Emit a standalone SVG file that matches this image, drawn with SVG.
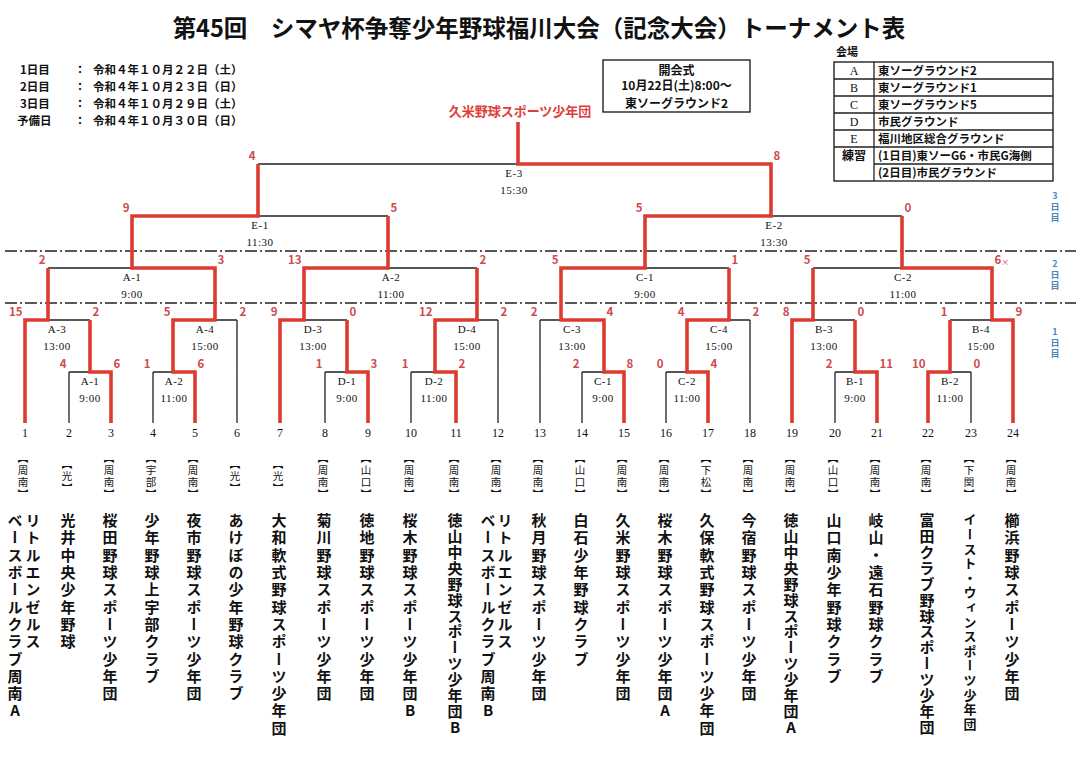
<svg xmlns="http://www.w3.org/2000/svg" width="1089" height="763" viewBox="0 0 1089 763">
<style>
.g{font-family:"Noto Sans CJK JP","Noto Sans",sans-serif;font-weight:bold;fill:#111}
.s{font-family:"Liberation Serif","Noto Sans CJK JP",serif;fill:#111}
.ml{font-size:11px;text-anchor:middle;letter-spacing:0.5px}
.num{font-size:12px;text-anchor:middle}
.sc{font-size:11.5px;fill:#cf4a4f}
.l{text-anchor:end}
.rr{text-anchor:start}
.tn{font-size:15px;writing-mode:vertical-rl;text-orientation:upright;letter-spacing:2.3px}
.tt{letter-spacing:0.9px}
.tsm{font-size:13px;letter-spacing:1.6px}
.pf{font-size:10.5px;writing-mode:vertical-rl;text-orientation:upright;letter-spacing:1.6px;text-anchor:middle;font-weight:normal}
.bk{fill:none;stroke:#222;stroke-width:1.3}
.rd{fill:none;stroke:#dc3b30;stroke-width:3.6;stroke-linejoin:miter}
.dd{fill:none;stroke:#222;stroke-width:1.3;stroke-dasharray:12 3 2 3}
.side{font-size:9px;fill:#4a86c0;text-anchor:middle}
.lg{font-size:11.5px}
.box{fill:none;stroke:#111;stroke-width:1.3}
</style>
<rect width="1089" height="763" fill="#fff"/>

<g id="title">
<text class="g" x="539" y="37" font-size="23.5" text-anchor="middle">第45回　シマヤ杯争奪少年野球福川大会（記念大会）トーナメント表</text>
</g>

<g id="schedule" class="g" font-size="11.5">
<text x="20" y="74">1日目</text><text x="80" y="74" text-anchor="middle">：</text><text x="93" y="74">令和４年１０月２２日（土）</text>
<text x="20" y="91">2日目</text><text x="80" y="91" text-anchor="middle">：</text><text x="93" y="91">令和４年１０月２３日（日）</text>
<text x="20" y="108">3日目</text><text x="80" y="108" text-anchor="middle">：</text><text x="93" y="108">令和４年１０月２９日（土）</text>
<text x="17" y="125">予備日</text><text x="80" y="125" text-anchor="middle">：</text><text x="93" y="125">令和４年１０月３０日（日）</text>
</g>

<g id="opening">
<rect class="box" x="603" y="60" width="147" height="52"/>
<text class="g" x="676.5" y="74.5" font-size="12" text-anchor="middle">開会式</text>
<text class="g" x="676.5" y="89.5" font-size="12" text-anchor="middle">10月22日(土)8:00～</text>
<text class="g" x="676.5" y="107.5" font-size="12" text-anchor="middle">東ソーグラウンド2</text>
</g>

<g id="champion">
<text class="g" x="520" y="116" font-size="13" text-anchor="middle" style="fill:#e03c3c">久米野球スポーツ少年団</text>
</g>

<g id="venues">
<text class="g" x="836" y="56" font-size="11">会場</text>
<rect class="box" x="834" y="62" width="219" height="119"/>
<path class="bk" d="M874 62V181M834 79H1053M834 96H1053M834 113H1053M834 130H1053M834 147H1053M874 164H1053"/>
<text class="s" x="854" y="75" font-size="12" text-anchor="middle">A</text>
<text class="s" x="854" y="92" font-size="12" text-anchor="middle">B</text>
<text class="s" x="854" y="109" font-size="12" text-anchor="middle">C</text>
<text class="s" x="854" y="126" font-size="12" text-anchor="middle">D</text>
<text class="s" x="854" y="143" font-size="12" text-anchor="middle">E</text>
<text class="g" x="854" y="160" font-size="12" text-anchor="middle">練習</text>
<text class="g lg" x="878" y="75">東ソーグラウンド2</text>
<text class="g lg" x="878" y="92">東ソーグラウンド1</text>
<text class="g lg" x="878" y="109">東ソーグラウンド5</text>
<text class="g lg" x="878" y="126">市民グラウンド</text>
<text class="g lg" x="878" y="143">福川地区総合グラウンド</text>
<text class="g lg" x="878" y="160">(1日目)東ソーG6・市民G海側</text>
<text class="g lg" x="878" y="177">(2日目)市民グラウンド</text>
</g>

<g id="day-markers">
<path class="dd" d="M5 251H1076M5 303H1076"/>
<text class="g side" x="1055" y="199"><tspan x="1055">3</tspan><tspan x="1055" dy="11">日</tspan><tspan x="1055" dy="11">目</tspan></text>
<text class="g side" x="1055" y="267"><tspan x="1055">2</tspan><tspan x="1055" dy="11">日</tspan><tspan x="1055" dy="11">目</tspan></text>
<text class="g side" x="1055" y="335"><tspan x="1055">1</tspan><tspan x="1055" dy="11">日</tspan><tspan x="1055" dy="11">目</tspan></text>
</g>

<g id="connectors">
<path class="bk" d="M69 372H90M153 372H173M325 372H347M411 372H435M582 372H604M666 372H687M835 372H855M950 372H971
M48 320H90M215 320H237M304 320H347M477 320H498M540 320H561M729 320H750M813 320H855M950 320H992
M48 268H132M388 268H477M645 268H729M813 268H902
M258 216H388M771 216H902M258 164H518
M69 423V372M153 423V372M237 423V320M325 423V372M411 423V372M498 423V320M540 423V320M582 423V372M666 423V372M750 423V320M835 423V372M971 423V372"/>
<path class="rd" d="M624 423V372H604V320H561V268H645V216H771V164H518V122"/>
<path class="rd" d="M25 423V320H48V268"/>
<path class="rd" d="M111 423V372H90V320"/>
<path class="rd" d="M195 423V372H173V320H215V268H132V216H258V164"/>
<path class="rd" d="M280 423V320H304V268H388V216"/>
<path class="rd" d="M368 423V372H347V320"/>
<path class="rd" d="M456 423V372H435V320H477V268"/>
<path class="rd" d="M708 423V372H687V320H729V268"/>
<path class="rd" d="M792 423V320H813V268"/>
<path class="rd" d="M877 423V372H855V320"/>
<path class="rd" d="M928 423V372H950V320"/>
<path class="rd" d="M1013 423V320H992V268H902V216"/>
</g>

<g id="m-E-3"><text class="s ml" x="514" y="177">E-3</text><text class="s ml" x="514" y="194">15:30</text><text class="g sc l" x="255.5" y="160">4</text><text class="g sc rr" x="773.5" y="160">8</text></g>
<g id="m-E-1"><text class="s ml" x="260" y="229">E-1</text><text class="s ml" x="260" y="246">11:30</text><text class="g sc l" x="129.5" y="212">9</text><text class="g sc rr" x="390.5" y="212">5</text></g>
<g id="m-E-2"><text class="s ml" x="774" y="229">E-2</text><text class="s ml" x="774" y="246">13:30</text><text class="g sc l" x="642.5" y="212">5</text><text class="g sc rr" x="904.5" y="212">0</text></g>

<g id="m-d2-A-1"><text class="s ml" x="132" y="281">A-1</text><text class="s ml" x="132" y="298">9:00</text><text class="g sc l" x="45.5" y="264">2</text><text class="g sc rr" x="217.5" y="264">3</text></g>
<g id="m-d2-A-2"><text class="s ml" x="391" y="281">A-2</text><text class="s ml" x="391" y="298">11:00</text><text class="g sc l" x="301.5" y="264">13</text><text class="g sc rr" x="479.5" y="264">2</text></g>
<g id="m-d2-C-1"><text class="s ml" x="645" y="281">C-1</text><text class="s ml" x="645" y="298">9:00</text><text class="g sc l" x="558.5" y="264">5</text><text class="g sc rr" x="731.5" y="264">1</text></g>
<g id="m-d2-C-2"><text class="s ml" x="903" y="281">C-2</text><text class="s ml" x="903" y="298">11:00</text><text class="g sc l" x="810.5" y="264">5</text><text class="g sc rr" x="994.5" y="264">6<tspan font-size="8" dy="1" font-weight="normal">×</tspan></text></g>

<g id="m-A-3"><text class="s ml" x="57" y="333">A-3</text><text class="s ml" x="57" y="350">13:00</text><text class="g sc l" x="22.5" y="316">15</text><text class="g sc rr" x="92.5" y="316">2</text></g>
<g id="m-A-4"><text class="s ml" x="205" y="333">A-4</text><text class="s ml" x="205" y="350">15:00</text><text class="g sc l" x="170.5" y="316">5</text><text class="g sc rr" x="239.5" y="316">2</text></g>
<g id="m-D-3"><text class="s ml" x="313" y="333">D-3</text><text class="s ml" x="313" y="350">13:00</text><text class="g sc l" x="277.5" y="316">9</text><text class="g sc rr" x="349.5" y="316">0</text></g>
<g id="m-D-4"><text class="s ml" x="467" y="333">D-4</text><text class="s ml" x="467" y="350">15:00</text><text class="g sc l" x="432.5" y="316">12</text><text class="g sc rr" x="500.5" y="316">2</text></g>
<g id="m-C-3"><text class="s ml" x="572" y="333">C-3</text><text class="s ml" x="572" y="350">13:00</text><text class="g sc l" x="537.5" y="316">2</text><text class="g sc rr" x="606.5" y="316">4</text></g>
<g id="m-C-4"><text class="s ml" x="719" y="333">C-4</text><text class="s ml" x="719" y="350">15:00</text><text class="g sc l" x="684.5" y="316">4</text><text class="g sc rr" x="752.5" y="316">2</text></g>
<g id="m-B-3"><text class="s ml" x="824" y="333">B-3</text><text class="s ml" x="824" y="350">13:00</text><text class="g sc l" x="789.5" y="316">8</text><text class="g sc rr" x="857.5" y="316">0</text></g>
<g id="m-B-4"><text class="s ml" x="981" y="333">B-4</text><text class="s ml" x="981" y="350">15:00</text><text class="g sc l" x="947.5" y="316">1</text><text class="g sc rr" x="1015.5" y="316">9</text></g>

<g id="m-d1-A-1"><text class="s ml" x="90" y="385">A-1</text><text class="s ml" x="90" y="402">9:00</text><text class="g sc l" x="66.5" y="368">4</text><text class="g sc rr" x="113.5" y="368">6</text></g>
<g id="m-d1-A-2"><text class="s ml" x="174" y="385">A-2</text><text class="s ml" x="174" y="402">11:00</text><text class="g sc l" x="150.5" y="368">1</text><text class="g sc rr" x="197.5" y="368">6</text></g>
<g id="m-d1-D-1"><text class="s ml" x="347" y="385">D-1</text><text class="s ml" x="347" y="402">9:00</text><text class="g sc l" x="322.5" y="368">1</text><text class="g sc rr" x="370.5" y="368">3</text></g>
<g id="m-d1-D-2"><text class="s ml" x="434" y="385">D-2</text><text class="s ml" x="434" y="402">11:00</text><text class="g sc l" x="408.5" y="368">1</text><text class="g sc rr" x="458.5" y="368">2</text></g>
<g id="m-d1-C-1"><text class="s ml" x="603" y="385">C-1</text><text class="s ml" x="603" y="402">9:00</text><text class="g sc l" x="579.5" y="368">2</text><text class="g sc rr" x="626.5" y="368">8</text></g>
<g id="m-d1-C-2"><text class="s ml" x="687" y="385">C-2</text><text class="s ml" x="687" y="402">11:00</text><text class="g sc l" x="663.5" y="368">0</text><text class="g sc rr" x="710.5" y="368">4</text></g>
<g id="m-d1-B-1"><text class="s ml" x="855" y="385">B-1</text><text class="s ml" x="855" y="402">9:00</text><text class="g sc l" x="832.5" y="368">2</text><text class="g sc rr" x="879.5" y="368">11</text></g>
<g id="m-d1-B-2"><text class="s ml" x="950" y="385">B-2</text><text class="s ml" x="950" y="402">11:00</text><text class="g sc l" x="925.5" y="368">10</text><text class="g sc rr" x="973.5" y="368">0</text></g>

<g id="team-1"><text class="s num" x="25" y="437">1</text><text class="g pf" x="23" y="477">【周南】</text><text class="g tn" x="33" y="513">リトルエンゼルス</text><text class="g tn" x="15" y="513">ベースボールクラブ周南A</text></g>
<g id="team-2"><text class="s num" x="69" y="437">2</text><text class="g pf" x="67" y="477">【光】</text><text class="g tn" x="68" y="513">光井中央少年野球</text></g>
<g id="team-3"><text class="s num" x="111" y="437">3</text><text class="g pf" x="109" y="477">【周南】</text><text class="g tn" x="110" y="513">桜田野球スポーツ少年団</text></g>
<g id="team-4"><text class="s num" x="153" y="437">4</text><text class="g pf" x="151" y="477">【宇部】</text><text class="g tn" x="152" y="513">少年野球上宇部クラブ</text></g>
<g id="team-5"><text class="s num" x="195" y="437">5</text><text class="g pf" x="193" y="477">【周南】</text><text class="g tn" x="194" y="513">夜市野球スポーツ少年団</text></g>
<g id="team-6"><text class="s num" x="237" y="437">6</text><text class="g pf" x="235" y="477">【光】</text><text class="g tn" x="236" y="513">あけぼの少年野球クラブ</text></g>
<g id="team-7"><text class="s num" x="280" y="437">7</text><text class="g pf" x="278" y="477">【光】</text><text class="g tn" x="279" y="513">大和軟式野球スポーツ少年団</text></g>
<g id="team-8"><text class="s num" x="325" y="437">8</text><text class="g pf" x="323" y="477">【周南】</text><text class="g tn" x="324" y="513">菊川野球スポーツ少年団</text></g>
<g id="team-9"><text class="s num" x="368" y="437">9</text><text class="g pf" x="366" y="477">【山口】</text><text class="g tn" x="367" y="513">徳地野球スポーツ少年団</text></g>
<g id="team-10"><text class="s num" x="411" y="437">10</text><text class="g pf" x="409" y="477">【周南】</text><text class="g tn" x="410" y="513">桜木野球スポーツ少年団B</text></g>
<g id="team-11"><text class="s num" x="456" y="437">11</text><text class="g pf" x="454" y="477">【周南】</text><text class="g tn tt" x="455" y="513">徳山中央野球スポーツ少年団B</text></g>
<g id="team-12"><text class="s num" x="498" y="437">12</text><text class="g pf" x="496" y="477">【周南】</text><text class="g tn" x="505" y="513">リトルエンゼルス</text><text class="g tn" x="488" y="513">ベースボールクラブ周南B</text></g>
<g id="team-13"><text class="s num" x="540" y="437">13</text><text class="g pf" x="538" y="477">【周南】</text><text class="g tn" x="539" y="513">秋月野球スポーツ少年団</text></g>
<g id="team-14"><text class="s num" x="582" y="437">14</text><text class="g pf" x="580" y="477">【山口】</text><text class="g tn" x="581" y="513">白石少年野球クラブ</text></g>
<g id="team-15"><text class="s num" x="624" y="437">15</text><text class="g pf" x="622" y="477">【周南】</text><text class="g tn" x="623" y="513">久米野球スポーツ少年団</text></g>
<g id="team-16"><text class="s num" x="666" y="437">16</text><text class="g pf" x="664" y="477">【周南】</text><text class="g tn" x="665" y="513">桜木野球スポーツ少年団A</text></g>
<g id="team-17"><text class="s num" x="708" y="437">17</text><text class="g pf" x="706" y="477">【下松】</text><text class="g tn" x="707" y="513">久保軟式野球スポーツ少年団</text></g>
<g id="team-18"><text class="s num" x="750" y="437">18</text><text class="g pf" x="748" y="477">【周南】</text><text class="g tn" x="749" y="513">今宿野球スポーツ少年団</text></g>
<g id="team-19"><text class="s num" x="792" y="437">19</text><text class="g pf" x="790" y="477">【周南】</text><text class="g tn tt" x="791" y="513">徳山中央野球スポーツ少年団A</text></g>
<g id="team-20"><text class="s num" x="835" y="437">20</text><text class="g pf" x="833" y="477">【山口】</text><text class="g tn" x="834" y="513">山口南少年野球クラブ</text></g>
<g id="team-21"><text class="s num" x="877" y="437">21</text><text class="g pf" x="875" y="477">【周南】</text><text class="g tn" x="876" y="513">岐山・遠石野球クラブ</text></g>
<g id="team-22"><text class="s num" x="928" y="437">22</text><text class="g pf" x="926" y="477">【周南】</text><text class="g tn tt" x="927" y="513">富田クラブ野球スポーツ少年団</text></g>
<g id="team-23"><text class="s num" x="971" y="437">23</text><text class="g pf" x="969" y="477">【下関】</text><text class="g tn tsm" x="970" y="513">イースト・ウィンスポーツ少年団</text></g>
<g id="team-24"><text class="s num" x="1013" y="437">24</text><text class="g pf" x="1011" y="477">【周南】</text><text class="g tn" x="1012" y="513">櫛浜野球スポーツ少年団</text></g>
</svg>
